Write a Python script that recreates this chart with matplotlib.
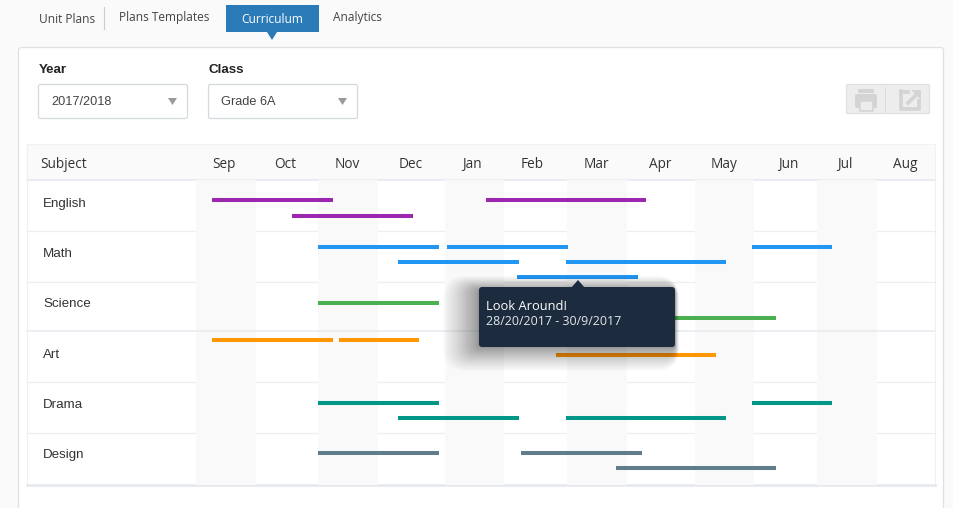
import numpy as np
import matplotlib
matplotlib.use("Agg")
import matplotlib.pyplot as plt
from matplotlib.patches import FancyBboxPatch, Polygon, Rectangle

W, H = 954, 508

months = ["Sep", "Oct", "Nov", "Dec", "Jan", "Feb", "Mar", "Apr", "May", "Jun", "Jul", "Aug"]
subjects = ["English", "Math", "Science", "Art", "Drama", "Design"]
tabs = ["Unit Plans", "Plans Templates", "Curriculum", "Analytics"]

# each bar: start month, end month, height inside the subject row (0 = top of row)
english = [(0.27, 2.25, 0.40), (1.58, 3.52, 0.70), (4.69, 7.28, 0.40)]
math_ = [(2.0, 3.91, 0.32), (4.03, 6.02, 0.32), (3.30, 5.24, 0.62), (5.98, 8.53, 0.62),
         (8.97, 10.25, 0.32), (5.21, 7.16, 0.91)]
science = [(2.0, 3.91, 0.41), (6.82, 9.35, 0.72)]
art = [(0.27, 2.25, 0.15), (2.35, 3.61, 0.15), (5.83, 8.36, 0.44)]
drama = [(2.0, 3.91, 0.39), (3.30, 5.24, 0.69), (5.98, 8.53, 0.69), (8.97, 10.25, 0.39)]
design = [(2.0, 3.91, 0.38), (5.27, 7.22, 0.38), (6.82, 9.35, 0.67)]
colors = ["#9C27B0", "#2196F3", "#4CAF50", "#FF9800", "#009688", "#607D8B"]

# month columns are not all the same width on the page
month_edges = [196, 256, 318, 378, 445, 504, 567, 627, 695, 754, 817, 877, 935]
month_label_px = [224, 285, 347, 411, 472, 532, 596, 660, 724, 788, 845, 905]
month_pos = np.arange(13)


def forward(x):
    return np.interp(x, month_pos, month_edges)


def inverse(x):
    return np.interp(x, month_edges, month_pos)


def box(ax, x0, y0, x1, y1, fc, ec="none", lw=1, r=2, **kw):
    p = FancyBboxPatch((x0 + r, y0 + r), x1 - x0 - 2 * r, y1 - y0 - 2 * r,
                       boxstyle=f"round,pad={r},rounding_size={r}", fc=fc, ec=ec, lw=lw, **kw)
    ax.add_patch(p)
    return p


fig = plt.figure(figsize=(W / 100, H / 100), dpi=100, facecolor="#FAFAFA")

# page furniture, in pixels
bg = fig.add_axes([0, 0, 1, 1], zorder=0)
bg.set_xlim(0, W)
bg.set_ylim(H, 0)
bg.axis("off")

ui = "Open Sans"
arial = "Liberation Sans"

box(bg, 18.5, 47.5, 943.5, 530, "white", "#DFE2E5", 0.9, r=3)

# tabs
tab_x = [39, 119, 272, 333]
tab_y = [19.5, 17.5, 19.5, 17.5]
bg.add_patch(Rectangle((226, 5), 93, 27, fc="#2B7BB9", ec="none"))
bg.add_patch(Polygon([[267, 32], [277, 32], [272, 40]], fc="#2B7BB9", ec="none"))
bg.plot([104.5, 104.5], [7, 29], color="#CCCCCC", lw=0.8)
for i, t in enumerate(tabs):
    active = i == 2
    bg.text(tab_x[i], tab_y[i], t, family=ui, fontsize=8.6, va="center",
            ha="center" if active else "left", color="white" if active else "#444444")

# dropdowns
for x, label, val in [(38, "Year", "2017/2018"), (208, "Class", "Grade 6A")]:
    bg.text(x + 1, 70, label, family=arial, fontsize=9.6, fontweight="bold", va="center", color="#222222")
    box(bg, x + 0.5, 84.5, x + 149.5, 118.5, "white", "#D3D9DF", 0.9, r=2)
    bg.text(x + 13.5, 102, val, family=arial, fontsize=9.2, va="center", color="#444444")
    bg.add_patch(Polygon([[x + 130, 98], [x + 139, 98], [x + 134.5, 105]], fc="#9A9A9A", ec="none"))

# print / export buttons
icon = "#D4D4D4"
box(bg, 846.5, 84.5, 929.5, 113.5, "#EDEDED", "#E0E0E0", 0.9, r=1)
bg.plot([885.5, 885.5], [87, 111], color="#DCDCDC", lw=0.8)
box(bg, 855, 94, 877, 108, icon, r=2)
box(bg, 858, 89, 874, 93, icon, r=1)
bg.add_patch(Rectangle((860, 101), 13, 10, fc="#EDEDED", ec=icon, lw=1.1))
bg.plot([901.5, 901.5, 919, 919], [91, 109, 109, 101], color=icon, lw=2.6, solid_joinstyle="miter")
bg.plot([901.5, 908], [92, 92], color=icon, lw=2.6)
bg.plot([908, 915], [103, 96], color=icon, lw=2.6)
bg.add_patch(Polygon([[911, 90], [921, 90], [921, 100]], fc=icon, ec="none"))

# table frame
bg.add_patch(Rectangle((27, 144), 908, 36, fc="#FAFAFA", ec="#F1F2F3", lw=0.8))
bg.add_patch(Rectangle((27, 180), 908, 305, fc="white", ec="none"))
bg.plot([27, 935], [180, 180], color="#E9EDF1", lw=1.5)
bg.plot([27.5, 27.5], [144, 485], color="#EEF0F2", lw=0.8)
bg.plot([935, 935], [180, 485], color="#EEF0F2", lw=0.8)
bg.plot([27, 935], [485, 485], color="#E6EAEE", lw=2.0)
for y in [231, 282, 382, 433]:
    bg.plot([27, 935], [y, y], color="#EEEEEE", lw=0.9)
bg.plot([27, 196], [331, 331], color="#E9EDF1", lw=1.3)
bg.text(40.5, 164.5, "Subject", family=ui, fontsize=9.8, va="center", color="#333333")
row_label_y = [204, 254, 304, 355, 405, 455]
for s, y in zip(subjects, row_label_y):
    bg.text(43, y, s, family=arial, fontsize=9.6, va="center", color="#333333")

# gantt part
ax = fig.add_axes([196 / W, 1 - 485 / H, (935 - 196) / W, 305 / H], zorder=1)
ax.patch.set_alpha(0)
ax.set_xscale("function", functions=(forward, inverse))
ax.set_xlim(0, 12)
ax.set_ylim(6, 0)
for s in ax.spines.values():
    s.set_visible(False)
ax.set_xticks(inverse(np.array(month_label_px)))
ax.set_xticks([], minor=True)
ax.set_xticklabels(months, family=ui, fontsize=9.8, color="#333333", va="baseline")
ax.xaxis.tick_top()
ax.tick_params(axis="x", length=0, pad=8.5)
ax.set_yticks([])

for i in range(0, 12, 2):
    ax.axvspan(i, i + 1, color="#F9F9F9", lw=0, zorder=1)
ax.axhline(2.97, color="#E9EDF1", lw=1.3, zorder=1.5)

rows = [english, math_, science, art, drama, design]
for r, (bars, c) in enumerate(zip(rows, colors)):
    for start, end, level in bars:
        ax.plot([start, end], [r + level, r + level], color=c, lw=2.9,
                solid_capstyle="butt", zorder=2)

# tooltip on top of everything
top = fig.add_axes([0, 0, 1, 1], zorder=2)
top.set_xlim(0, W)
top.set_ylim(H, 0)
top.axis("off")
for k in range(30):
    grow = (1 - k / 30) ** 1.6
    box(top, 479 - 36 * grow, 290 - 14 * grow, 675 + 4 * grow, 347 + 24 * grow, "black",
        r=3 + 20 * grow, alpha=0.014)
box(top, 479, 287, 675, 347, "#1C2B3E", r=3)
top.add_patch(Polygon([[571, 288], [585, 288], [578, 280]], fc="#1C2B3E", ec="none"))
top.text(486, 306, "Look Around!", family=ui, fontsize=9.3, va="center", color="white")
top.text(486, 321.5, "28/20/2017 - 30/9/2017", family=ui, fontsize=8.9, va="center", color="#E4E7EA")

fig.savefig("out.png", dpi=100, facecolor=fig.get_facecolor())
